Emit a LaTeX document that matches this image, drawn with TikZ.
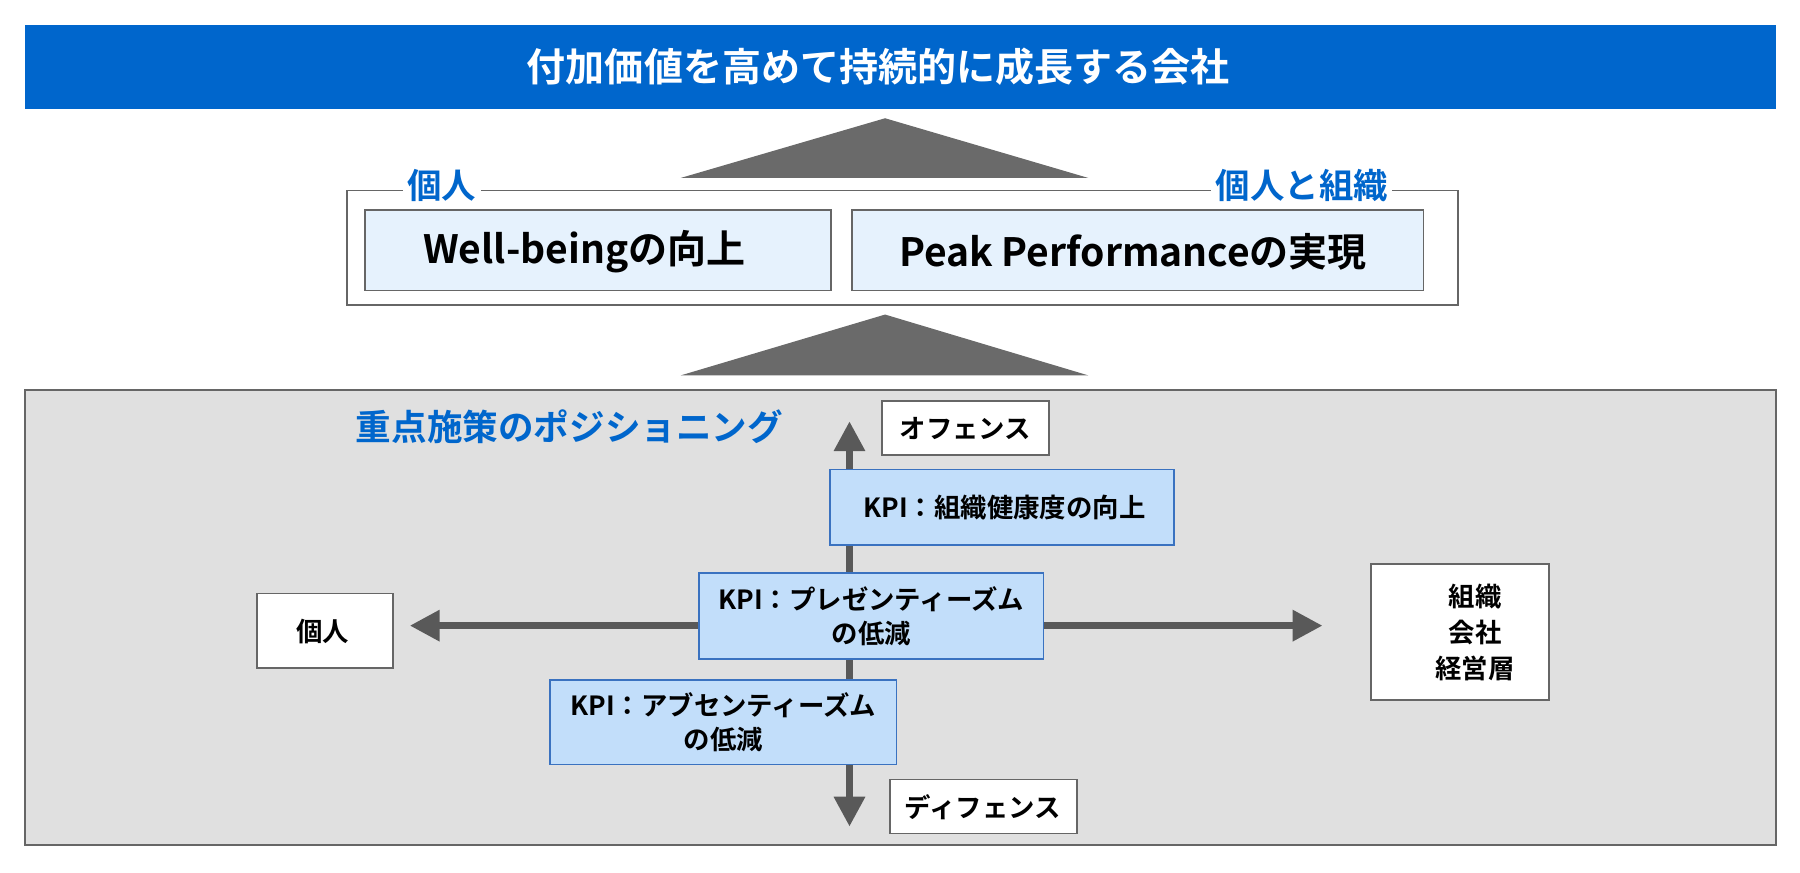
\documentclass[tikz,border=0pt]{standalone}
\usepackage{fontspec}
\setmainfont{Noto Sans CJK JP}[BoldFont={* Bold}]
\usetikzlibrary{arrows.meta}
\definecolor{tblue}{HTML}{0066CC}
\definecolor{kfill}{HTML}{C2DEFA}
\definecolor{kline}{HTML}{3A72C0}
\definecolor{ifill}{HTML}{E6F2FD}
\definecolor{panel}{HTML}{E0E0E0}
\definecolor{arr}{HTML}{595959}
\begin{document}
\begin{tikzpicture}[x=0.5pt,y=-0.5pt,
  box/.style={draw=gray!80!black,line width=0.8pt},
  kpi/.style={draw=kline,fill=kfill,line width=0.8pt},
  lbl/.style={font=\bfseries\fontsize{11.5}{15}\selectfont,align=center},
  axis/.style={draw=arr,line width=3pt,-{Triangle[length=13pt,width=13pt]}}]
\useasboundingbox (0,0) rectangle (1568,760);
\fill[tblue] (22,22) rectangle (1547,95);
\node[text=white,font=\bfseries\fontsize{17}{20}\selectfont] (title) at (765,58) {付加価値を高めて持続的に成長する会社};
\fill[arr!90] (771,103) -- (948,155) -- (593,155) -- cycle;
\draw[box,fill=white] (302,166) rectangle (1270,266);
\node[fill=white,text=tblue,font=\bfseries\fontsize{15}{17}\selectfont,inner sep=2pt] (l1) at (385,162) {個人};
\node[fill=white,text=tblue,font=\bfseries\fontsize{15}{17}\selectfont,inner sep=2pt] (l2) at (1134,162) {個人と組織};
\draw[box,fill=ifill] (318,183) rectangle (724,253);
\node[font=\bfseries\fontsize{17}{20}\selectfont] (wb) at (509,219) {Well-beingの向上};
\draw[box,fill=ifill] (742,183) rectangle (1240,253);
\node[font=\bfseries\fontsize{17}{20}\selectfont] (pp) at (987,219) {Peak Performanceの実現};
\fill[arr!90] (771,274) -- (948,327) -- (593,327) -- cycle;
\draw[box,fill=panel] (22,340) rectangle (1547,736);
\node[anchor=west,text=tblue,font=\bfseries\fontsize{15.5}{18}\selectfont] (head) at (303,372) {重点施策のポジショニング};
\coordinate (c) at (740,545);
\coordinate (top) at (740,367);
\coordinate (bot) at (740,720);
\coordinate (lft) at (357,545);
\coordinate (rgt) at (1152,545);
\draw[axis] (c) -- (top);
\draw[axis] (c) -- (bot);
\draw[axis] (c) -- (lft);
\draw[axis] (c) -- (rgt);
\draw[box,fill=white] (768,349) rectangle (914,396);
\node[lbl] (off) at (841,373) {オフェンス};
\draw[box,fill=white] (775,679) rectangle (938,726);
\node[lbl] (def) at (856,703) {ディフェンス};
\draw[box,fill=white] (224,517) rectangle (342,582);
\node[lbl] (ind) at (281,550) {個人};
\draw[box,fill=white] (1194,491) rectangle (1349,610);
\node[lbl,font=\bfseries\fontsize{11.5}{15.5}\selectfont] (org) at (1285,551) {組織\\会社\\経営層};
\draw[kpi] (723,409) rectangle (1023,475);
\node[lbl] (k1) at (875,442) {KPI：組織健康度の向上};
\draw[kpi] (609,499) rectangle (909,574);
\node[lbl] (k2) at (759,537) {KPI：プレゼンティーズム\\の低減};
\draw[kpi] (479,592) rectangle (781,666);
\node[lbl] (k3) at (630,629) {KPI：アブセンティーズム\\の低減};
\end{tikzpicture}
\end{document}
